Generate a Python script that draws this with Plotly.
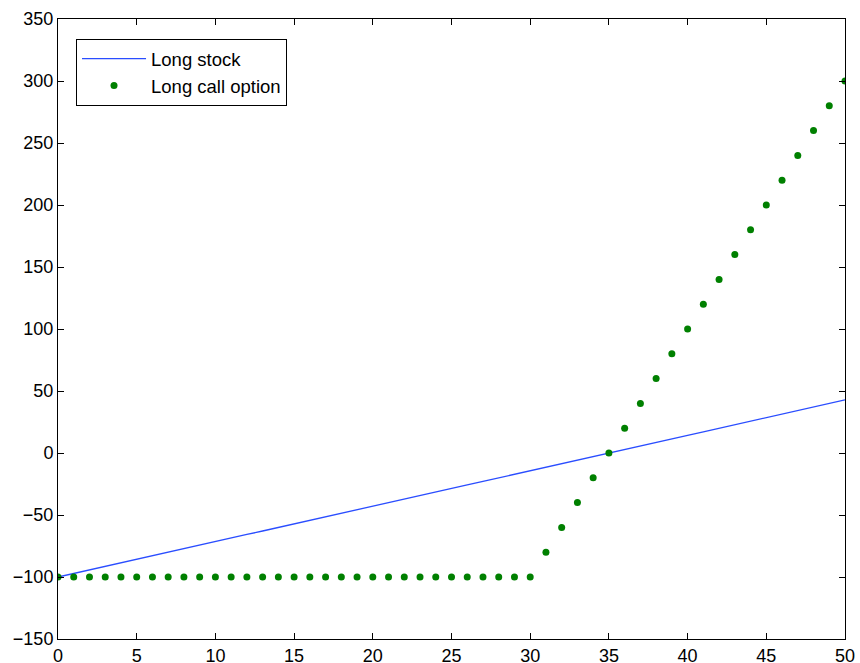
import plotly.graph_objects as go

price = list(range(0, 51))
long_stock = [-100.0, -97.1, -94.3, -91.4, -88.6, -85.7, -82.9, -80.0, -77.1, -74.3,
              -71.4, -68.6, -65.7, -62.9, -60.0, -57.1, -54.3, -51.4, -48.6, -45.7,
              -42.9, -40.0, -37.1, -34.3, -31.4, -28.6, -25.7, -22.9, -20.0, -17.1,
              -14.3, -11.4, -8.6, -5.7, -2.9, 0.0, 2.9, 5.7, 8.6, 11.4,
              14.3, 17.1, 20.0, 22.9, 25.7, 28.6, 31.4, 34.3, 37.1, 40.0, 42.9]
long_call = [-100] * 31 + [-80, -60, -40, -20, 0, 20, 40, 60, 80, 100,
                           120, 140, 160, 180, 200, 220, 240, 260, 280, 300]

x_ticks = list(range(0, 51, 5))
y_ticks = list(range(-150, 351, 50))
y_labels = [str(v).replace("-", "\u2212") for v in y_ticks]

fig = go.Figure()
fig.add_trace(go.Scatter(x=price, y=long_stock, mode="lines", name="Long stock",
                         line=dict(color="#2a4dff", width=1.3)))
fig.add_trace(go.Scatter(x=price, y=long_call, mode="markers", name="Long call option",
                         marker=dict(color="#008000", size=7)))

axis_common = dict(showgrid=False, zeroline=False, showline=True, linecolor="black",
                   linewidth=1, mirror="ticks", ticks="inside", ticklen=6,
                   tickcolor="black", automargin=False,
                   tickfont=dict(family="Liberation Sans, Arial", size=18, color="black"))
fig.update_xaxes(range=[0, 50], tickvals=x_ticks, ticktext=[str(v) for v in x_ticks], **axis_common)
fig.update_yaxes(range=[-150, 350], tickvals=y_ticks, ticktext=y_labels, **axis_common)

fig.update_layout(
    width=860, height=663,
    margin=dict(l=58, r=15, t=19, b=24),
    paper_bgcolor="white", plot_bgcolor="white",
    showlegend=True,
    legend=dict(x=0.0229, y=0.9677, xanchor="left", yanchor="top",
                bordercolor="black", borderwidth=1, bgcolor="white",
                font=dict(family="Liberation Sans, Arial", size=18.5, color="black"),
                itemwidth=64, tracegroupgap=0),
)
fig.write_html("out.html")
